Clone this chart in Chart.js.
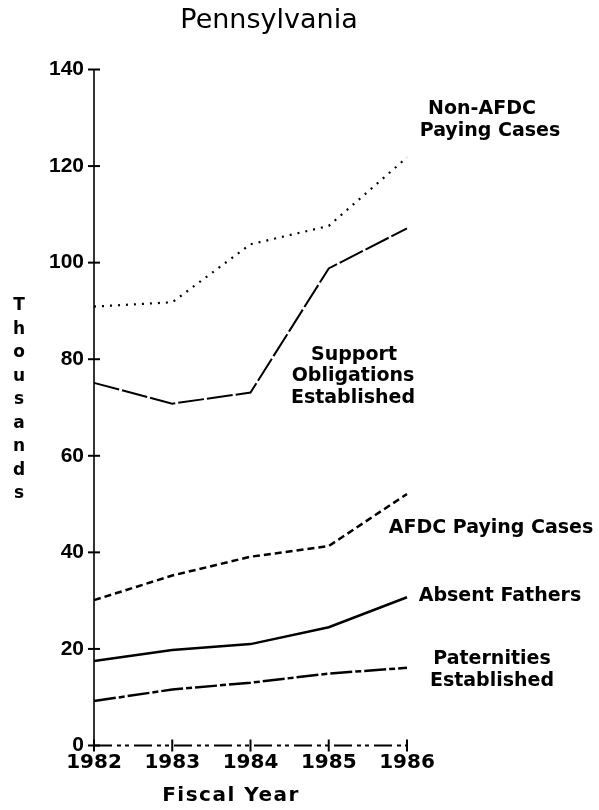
<!DOCTYPE html>
<html>
<head>
<meta charset="utf-8">
<script src="https://cdn.jsdelivr.net/npm/chart.js@4.4.0/dist/chart.umd.min.js"></script>
<style>
  body { margin: 0; background: #fff; }
  canvas { display: block; }
</style>
</head>
<body>
<canvas id="myChart" width="599" height="810"></canvas>
<script>
// values, in thousands
const years = ['1982', '1983', '1984', '1985', '1986'];
const nonAfdcPaying = [90.9, 91.8, 103.8, 107.6, 121.8];
const supportObligations = [75.1, 70.8, 73.1, 98.8, 107.1];
const afdcPaying = [30.1, 35.2, 39.1, 41.3, 52.1];
const absentFathers = [17.5, 19.8, 21.0, 24.5, 30.7];
const paternities = [9.2, 11.6, 13.0, 14.9, 16.1];
const yTicks = [0, 20, 40, 60, 80, 100, 120, 140];

const series = [
    { label: 'Non-AFDC Paying Cases', data: nonAfdcPaying, dash: [2, 6], width: 2.2 },
    { label: 'Support Obligations Established', data: supportObligations, dash: [26, 3], width: 2 },
    { label: 'AFDC Paying Cases', data: afdcPaying, dash: [7, 4], width: 2.5 },
    { label: 'Absent Fathers', data: absentFathers, dash: [], width: 2.5 },
    { label: 'Paternities Established', data: paternities, dash: [22, 3, 6, 3], width: 2.5 }
];

// axis lines with crossing tick marks, drawn from the chart's scales
const axesPlugin = {
    id: 'axes',
    afterDatasetsDraw(chart) {
        const c = chart.ctx;
        const xs = chart.scales.x, ys = chart.scales.y;
        const left = chart.chartArea.left, bottom = chart.chartArea.bottom;
        c.save();
        c.strokeStyle = '#000';
        c.lineWidth = 1.6;
        c.beginPath();
        c.moveTo(left, ys.getPixelForValue(140));
        c.lineTo(left, bottom);
        c.stroke();
        c.lineWidth = 2;
        yTicks.forEach(v => {
            const y = ys.getPixelForValue(v);
            c.beginPath();
            c.moveTo(left - 6, y);
            c.lineTo(left + 6, y);
            c.stroke();
        });
        c.setLineDash([18, 5, 4, 4, 4, 5]);
        c.beginPath();
        c.moveTo(left, bottom);
        c.lineTo(xs.getPixelForValue(years.length - 1), bottom);
        c.stroke();
        c.setLineDash([]);
        years.forEach((yr, i) => {
            const x = xs.getPixelForValue(i);
            c.beginPath();
            c.moveTo(x, bottom - 6);
            c.lineTo(x, bottom + 6);
            c.stroke();
        });
        c.restore();
    }
};

const textPlugin = {
    id: 'texts',
    afterDraw(chart) {
        const c = chart.ctx;
        c.save();
        c.fillStyle = '#000';
        c.textAlign = 'center';
        c.textBaseline = 'alphabetic';

        c.font = '27px "DejaVu Sans"';
        c.fillText('Pennsylvania', 269, 28);

        c.font = 'bold 19px "DejaVu Sans"';
        c.fillText('Non-AFDC', 482, 114);
        c.fillText('Paying Cases', 490, 136);
        c.fillText('Support', 354, 360);
        c.fillText('Obligations', 353, 381);
        c.fillText('Established', 353, 403);
        c.fillText('AFDC Paying Cases', 491, 533);
        c.fillText('Absent Fathers', 500, 601);
        c.fillText('Paternities', 492, 664);
        c.fillText('Established', 492, 686);

        c.font = 'bold 20px "DejaVu Sans"';
        c.letterSpacing = '1.5px';
        c.fillText('Fiscal Year', 231, 801);
        c.letterSpacing = '0px';

        c.font = 'bold 17px "DejaVu Sans"';
        c.textBaseline = 'middle';
        'Thousands'.split('').forEach((ch, i) => {
            c.fillText(ch, 19, 306 + i * 23.5);
        });
        c.restore();
    }
};

const ctx = document.getElementById('myChart').getContext('2d');
new Chart(ctx, {
    type: 'line',
    data: {
        labels: years,
        datasets: series.map(s => ({
            label: s.label,
            data: s.data,
            borderColor: '#000',
            borderWidth: s.width,
            borderDash: s.dash,
            pointRadius: 0,
            tension: 0,
            fill: false
        }))
    },
    options: {
        responsive: false,
        animation: false,
        layout: { padding: { left: 0, right: 192, top: 69.5, bottom: 0 } },
        plugins: {
            legend: { display: false },
            tooltip: { enabled: false }
        },
        scales: {
            x: {
                offset: false,
                grid: { display: false, drawTicks: false },
                border: { display: false },
                ticks: {
                    color: '#000',
                    padding: 5,
                    maxRotation: 0,
                    font: { family: 'DejaVu Sans', weight: 'bold', size: 20 }
                },
                afterFit: s => { s.height = 64.5; }
            },
            y: {
                min: 0,
                max: 140,
                grid: { display: false, drawTicks: false },
                border: { display: false },
                ticks: {
                    stepSize: 20,
                    color: '#000',
                    padding: 10,
                    font: { family: 'Liberation Sans', weight: 'bold', size: 21 }
                },
                afterFit: s => { s.width = 94; }
            }
        }
    },
    plugins: [axesPlugin, textPlugin]
});
</script>
</body>
</html>
